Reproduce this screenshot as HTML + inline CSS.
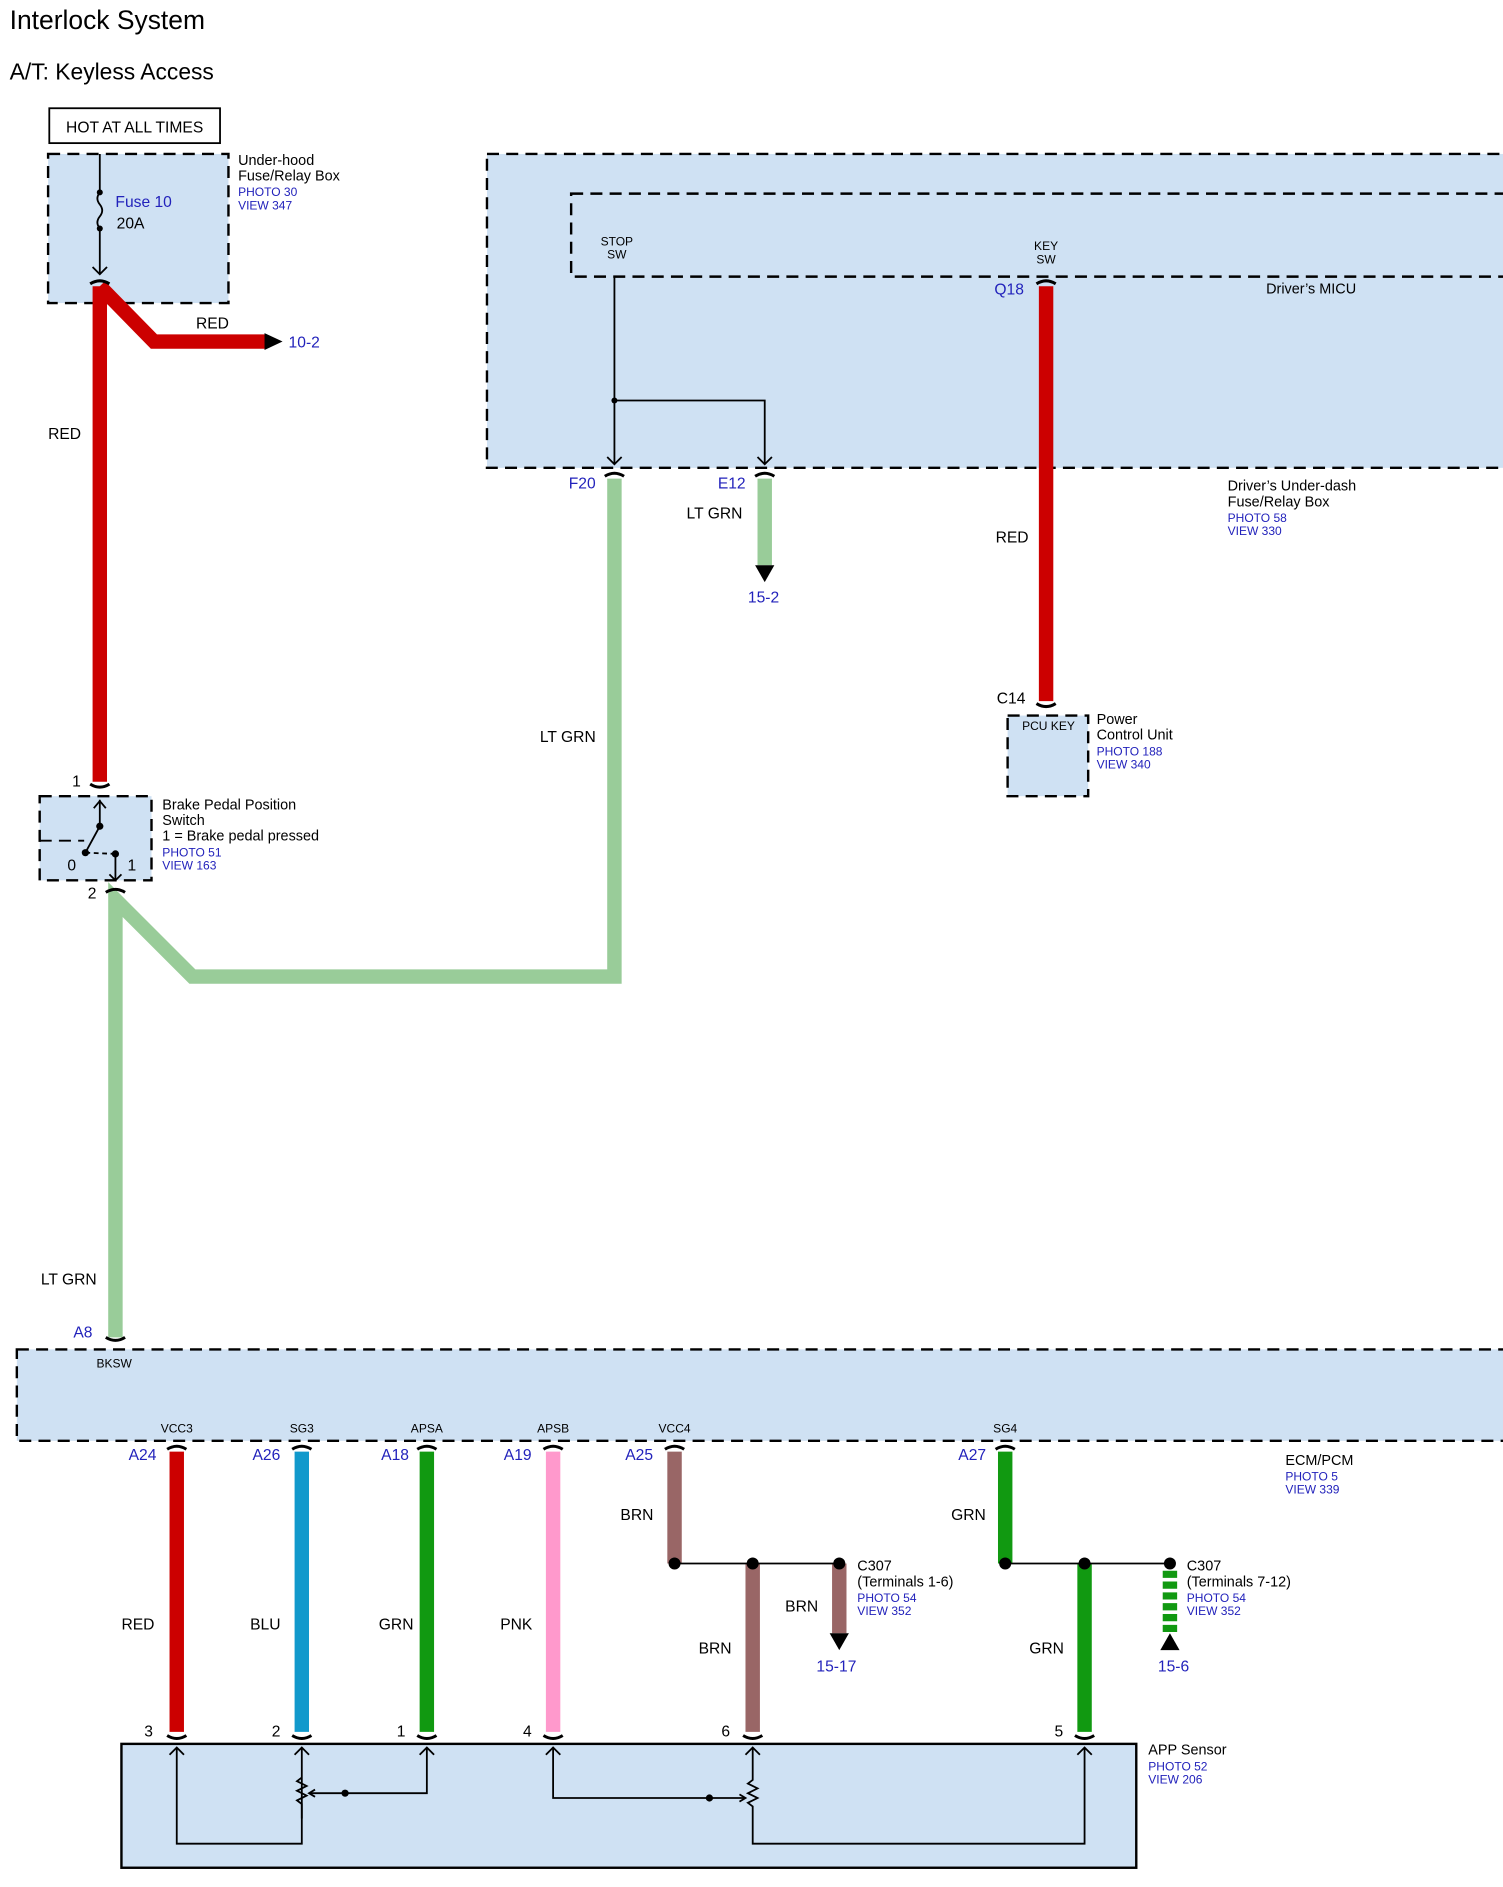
<!DOCTYPE html>
<html><head><meta charset="utf-8"><style>html,body{margin:0;padding:0;background:#fff}svg{display:block}text{font-family:"Liberation Sans",sans-serif}</style></head>
<body>
<svg width="1503" height="1887" viewBox="0 0 1250 1569" preserveAspectRatio="none" xmlns="http://www.w3.org/2000/svg">
<text x="8" y="24" font-size="22">Interlock System</text>
<text x="8" y="66" font-size="19">A/T: Keyless Access</text>
<rect x="41" y="90" width="142" height="29" fill="#fff" stroke="#000" stroke-width="1.5"/>
<text x="112" y="110" font-size="13" text-anchor="middle">HOT AT ALL TIMES</text>
<g fill="#cfe1f3" stroke="#000" stroke-width="2" stroke-dasharray="10,6">
<rect x="40" y="128" width="150" height="124"/>
<rect x="405" y="128" width="850" height="261"/>
<rect x="475" y="161" width="780" height="69"/>
<rect x="838" y="595" width="67" height="67"/>
<rect x="33" y="662" width="93" height="70"/>
<rect x="14" y="1122" width="1240" height="76"/>
</g>
<rect x="101" y="1450" width="844" height="103" fill="#cfe1f3" stroke="#000" stroke-width="2"/>
<g font-size="12">
<text x="198" y="137">Under-hood</text><text x="198" y="150">Fuse/Relay Box</text>
<text x="1021" y="408">Driver’s Under-dash</text><text x="1021" y="421">Fuse/Relay Box</text>
<text x="912" y="602">Power</text><text x="912" y="615">Control Unit</text>
<text x="135" y="673">Brake Pedal Position</text><text x="135" y="686">Switch</text><text x="135" y="699">1 = Brake pedal pressed</text>
<text x="1053" y="244">Driver’s MICU</text>
<text x="1069" y="1218">ECM/PCM</text>
<text x="955" y="1459">APP Sensor</text>
<text x="987" y="1306">C307</text><text x="987" y="1319">(Terminals 7-12)</text>
<text x="713" y="1306">C307</text><text x="713" y="1319">(Terminals 1-6)</text>
</g>
<g font-size="10" fill="#2222bb">
<text x="198" y="163">PHOTO 30</text><text x="198" y="174">VIEW 347</text>
<text x="1021" y="434">PHOTO 58</text><text x="1021" y="445">VIEW 330</text>
<text x="912" y="628">PHOTO 188</text><text x="912" y="639">VIEW 340</text>
<text x="135" y="712">PHOTO 51</text><text x="135" y="723">VIEW 163</text>
<text x="1069" y="1231">PHOTO 5</text><text x="1069" y="1242">VIEW 339</text>
<text x="955" y="1472">PHOTO 52</text><text x="955" y="1483">VIEW 206</text>
<text x="987" y="1332">PHOTO 54</text><text x="987" y="1343">VIEW 352</text>
<text x="713" y="1332">PHOTO 54</text><text x="713" y="1343">VIEW 352</text>
</g>
<g font-size="13" fill="#2222bb">
<text x="96" y="172">Fuse 10</text>
<text x="240" y="289">10-2</text>
<text x="827" y="245">Q18</text>
<text x="473" y="406">F20</text><text x="597" y="406">E12</text>
<text x="622" y="501">15-2</text>
<text x="61" y="1112">A8</text>
<text x="107" y="1214">A24</text><text x="210" y="1214">A26</text><text x="317" y="1214">A18</text><text x="419" y="1214">A19</text><text x="520" y="1214">A25</text><text x="797" y="1214">A27</text>
<text x="679" y="1390">15-17</text><text x="963" y="1390">15-6</text>
</g>
<g font-size="13">
<text x="97" y="190">20A</text>
<text x="163" y="273">RED</text><text x="40" y="365">RED</text>
<text x="571" y="431">LT GRN</text><text x="449" y="617">LT GRN</text><text x="828" y="451">RED</text>
<text x="34" y="1068">LT GRN</text>
<text x="829" y="585">C14</text>
<text x="60" y="654">1</text><text x="73" y="747">2</text><text x="56" y="724">0</text><text x="106" y="724">1</text>
<text x="101" y="1355">RED</text><text x="208" y="1355">BLU</text><text x="315" y="1355">GRN</text><text x="416" y="1355">PNK</text>
<text x="516" y="1264">BRN</text><text x="653" y="1340">BRN</text><text x="581" y="1375">BRN</text>
<text x="791" y="1264">GRN</text><text x="856" y="1375">GRN</text>
<text x="120" y="1444">3</text><text x="226" y="1444">2</text><text x="330" y="1444">1</text><text x="435" y="1444">4</text><text x="600" y="1444">6</text><text x="877" y="1444">5</text>
</g>
<g font-size="10" text-anchor="middle">
<text x="513" y="204">STOP</text><text x="513" y="215">SW</text>
<text x="870" y="208">KEY</text><text x="870" y="219">SW</text>
<text x="872" y="607">PCU KEY</text>
<text x="95" y="1137">BKSW</text>
<text x="147" y="1191">VCC3</text><text x="251" y="1191">SG3</text><text x="355" y="1191">APSA</text><text x="460" y="1191">APSB</text><text x="561" y="1191">VCC4</text><text x="836" y="1191">SG4</text>
</g>
<g fill="none" stroke-width="12" stroke-linejoin="miter">
<path d="M83,238 V650" stroke="#cc0000"/>
<path d="M83,238 L128,284 H222" stroke="#cc0000"/>
<path d="M870,238 V583" stroke="#cc0000"/>
<path d="M511,398 V812 H160 L96,748 V1112" stroke="#99cc99"/>
<path d="M636,398 V470" stroke="#99cc99"/>
<path d="M147,1207 V1440" stroke="#cc0000"/>
<path d="M251,1207 V1440" stroke="#1199cc"/>
<path d="M355,1207 V1440" stroke="#119911"/>
<path d="M460,1207 V1440" stroke="#ff99cc"/>
<path d="M561,1207 V1300" stroke="#996666"/>
<path d="M626,1300 V1440" stroke="#996666"/>
<path d="M698,1300 V1358" stroke="#996666"/>
<path d="M836,1207 V1300" stroke="#119911"/>
<path d="M902,1300 V1440" stroke="#119911"/>
<path d="M973,1306 V1358" stroke="#119911" stroke-dasharray="6,3"/>
</g>
<g fill="#000">
<path d="M220,277 L235,284 L220,291Z"/>
<path d="M628,470 L644,470 L636,484Z"/>
<path d="M690,1358 L706,1358 L698,1372Z"/>
<path d="M965,1372 L981,1372 L973,1358Z"/>
<circle cx="561" cy="1300" r="5"/><circle cx="626" cy="1300" r="5"/><circle cx="698" cy="1300" r="5"/>
<circle cx="836" cy="1300" r="5"/><circle cx="902" cy="1300" r="5"/><circle cx="973" cy="1300" r="5"/>
<circle cx="83" cy="160" r="2.5"/><circle cx="83" cy="190" r="2.5"/>
<circle cx="511" cy="333" r="2.5"/>
<circle cx="83" cy="687" r="3"/><circle cx="71" cy="709" r="3"/><circle cx="96" cy="710" r="3"/>
<circle cx="287" cy="1491" r="3"/><circle cx="590" cy="1495" r="3"/>
</g>
<g fill="none" stroke="#000" stroke-width="1.5">
<path d="M561,1300 H698 M836,1300 H973"/>
<path d="M83,128 V160 M83,190 V228" />
<path d="M83,160 q-4,5 0,10 q4,5 0,10 q-4,5 0,10"/>
<path d="M77,222 L83,228 L89,222"/>
<path d="M511,230 V386 M511,333 H636 V386"/>
<path d="M505,380 L511,386 L517,380 M630,380 L636,386 L642,380"/>
<path d="M75,236 q8,-5 16,0 M503,396 q8,-5 16,0 M628,396 q8,-5 16,0 M862,236 q8,-5 16,0 M862,585 q8,5 16,0 M75,652 q8,5 16,0 M88,742 q8,-5 16,0 M88,1112 q8,5 16,0 M139,1205 q8,-5 16,0 M243,1205 q8,-5 16,0 M347,1205 q8,-5 16,0 M452,1205 q8,-5 16,0 M553,1205 q8,-5 16,0 M828,1205 q8,-5 16,0 M139,1443 q8,5 16,0 M243,1443 q8,5 16,0 M347,1443 q8,5 16,0 M452,1443 q8,5 16,0 M618,1443 q8,5 16,0 M894,1443 q8,5 16,0" stroke-width="2.5"/>
<path d="M83,665 V687 L71,709 M96,710 V732" />
<path d="M33,699 H70" stroke-dasharray="10,6"/>
<path d="M71,709 L96,710" stroke-dasharray="4,3"/>
<path d="M78,672 L83,666 L88,672 M91,727 L96,732 L101,727"/>
<path d="M147,1453 V1533 H251 V1453 M251,1533 V1512 M251,1453 V1478 M355,1453 V1491 H258" />
<path d="M251,1478 l-4,3 l8,4 l-8,4 l8,4 l-8,4 l4,3 V1512"/>
<path d="M460,1453 V1495 H620 M626,1453 V1480 l-4,3 l8,4 l-8,4 l8,4 l-8,4 l4,3 V1533 H902 V1453"/>
<path d="M141,1459 L147,1453 L153,1459 M245,1459 L251,1453 L257,1459 M349,1459 L355,1453 L361,1459 M454,1459 L460,1453 L466,1459 M620,1459 L626,1453 L632,1459 M896,1459 L902,1453 L908,1459"/>
<path d="M262,1488 L257,1491 L262,1494 M615,1492 L620,1495 L615,1498"/>
</g>
</svg>
</body></html>
